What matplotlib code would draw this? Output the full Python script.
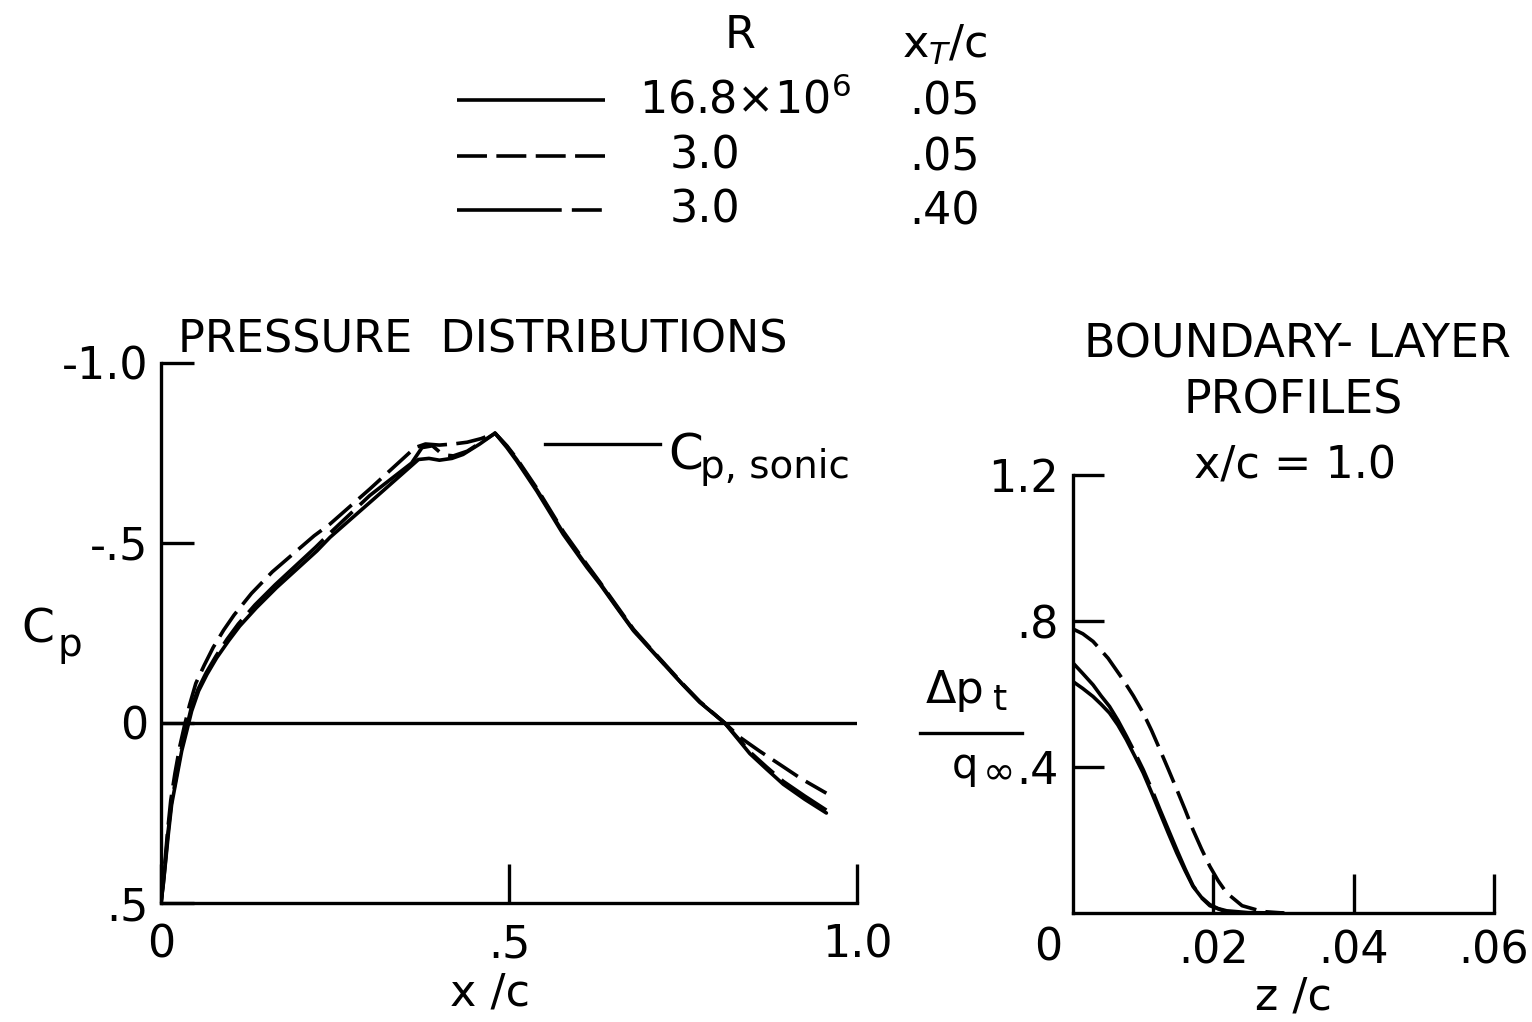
import matplotlib
matplotlib.use("Agg")
import matplotlib.pyplot as plt
from matplotlib.lines import Line2D

W, H = 1532, 1022

# pressure distributions (x/c, Cp)
# R = 16.8e6, xT/c = .05
xc_a = [0.0, 0.0033, 0.0057, 0.0105, 0.0153, 0.0225, 0.0297, 0.037, 0.044, 0.054, 0.066,
        0.080, 0.097, 0.113, 0.137, 0.166, 0.195, 0.224, 0.243, 0.305, 0.37, 0.385, 0.40,
        0.418, 0.434, 0.458, 0.48, 0.497, 0.511, 0.54, 0.578, 0.612, 0.631, 0.655, 0.679,
        0.703, 0.727, 0.75, 0.774, 0.81, 0.846, 0.87, 0.894, 0.925, 0.956]
cp_a = [0.5, 0.448, 0.402, 0.309, 0.226, 0.152, 0.078, 0.022, -0.033, -0.089, -0.135,
        -0.181, -0.228, -0.269, -0.32, -0.376, -0.427, -0.478, -0.516, -0.621, -0.732, -0.735, -0.73,
        -0.735, -0.746, -0.775, -0.805, -0.765, -0.728, -0.644, -0.524, -0.432, -0.385, -0.32, -0.256,
        -0.205, -0.154, -0.106, -0.058, 0.0, 0.085, 0.128, 0.17, 0.212, 0.25]

# R = 3.0e6, xT/c = .05
xc_b = [0.0, 0.003, 0.0055, 0.0095, 0.014, 0.020, 0.027, 0.034, 0.041, 0.050, 0.062,
        0.075, 0.090, 0.105, 0.13, 0.16, 0.19, 0.22, 0.243, 0.30, 0.365, 0.38, 0.40, 0.42,
        0.44, 0.46, 0.48, 0.497, 0.511, 0.54, 0.578, 0.612, 0.631, 0.655, 0.679, 0.703,
        0.727, 0.75, 0.774, 0.81, 0.832, 0.86, 0.889, 0.92, 0.956]
cp_b = [0.5, 0.44, 0.39, 0.3, 0.215, 0.14, 0.065, 0.005, -0.05, -0.11, -0.16,
        -0.21, -0.258, -0.3, -0.36, -0.42, -0.47, -0.52, -0.553, -0.65, -0.765, -0.775, -0.772, -0.775,
        -0.78, -0.79, -0.805, -0.77, -0.735, -0.652, -0.532, -0.44, -0.39, -0.325, -0.26, -0.208,
        -0.157, -0.108, -0.06, 0.0, 0.04, 0.078, 0.115, 0.155, 0.195]

# R = 3.0e6, xT/c = .40
xc_c = [0.0, 0.0033, 0.0057, 0.010, 0.015, 0.022, 0.029, 0.036, 0.043, 0.053, 0.065,
        0.079, 0.095, 0.111, 0.135, 0.164, 0.193, 0.222, 0.243, 0.30, 0.36, 0.375, 0.39,
        0.405, 0.42, 0.44, 0.46, 0.48, 0.497, 0.511, 0.54, 0.578, 0.612, 0.631, 0.655, 0.679,
        0.703, 0.727, 0.75, 0.774, 0.81, 0.846, 0.87, 0.894, 0.925, 0.956]
cp_c = [0.5, 0.445, 0.398, 0.305, 0.222, 0.148, 0.074, 0.018, -0.038, -0.093, -0.14,
        -0.186, -0.233, -0.275, -0.328, -0.384, -0.436, -0.488, -0.528, -0.632, -0.722, -0.765, -0.77,
        -0.745, -0.742, -0.755, -0.78, -0.805, -0.768, -0.732, -0.648, -0.528, -0.436, -0.388, -0.322, -0.258,
        -0.206, -0.155, -0.106, -0.058, 0.0, 0.08, 0.122, 0.162, 0.203, 0.242]

cp_sonic = -0.775
cp_sonic_x = [0.552, 0.717]

# boundary-layer profiles at x/c = 1.0 (z/c, delta pt / q)
zc_a = [0.0, 0.0014, 0.00286, 0.004, 0.0052, 0.0064, 0.0076, 0.0088, 0.01, 0.0112, 0.0124,
        0.0136, 0.0148, 0.016, 0.0171, 0.0183, 0.0195, 0.0207, 0.0219, 0.025, 0.03]
dp_a = [0.634, 0.615, 0.593, 0.572, 0.548, 0.515, 0.475, 0.43, 0.384, 0.33, 0.274,
        0.218, 0.164, 0.115, 0.073, 0.043, 0.023, 0.012, 0.006, 0.001, 0.0]

zc_b = [0.0, 0.0014, 0.00286, 0.005, 0.00714, 0.0086, 0.01, 0.0112, 0.0124, 0.0136, 0.0148,
        0.016, 0.0171, 0.0183, 0.0195, 0.0207, 0.0219, 0.0241, 0.027, 0.03]
dp_b = [0.778, 0.765, 0.744, 0.698, 0.639, 0.595, 0.548, 0.5, 0.447, 0.393, 0.338,
        0.282, 0.228, 0.176, 0.128, 0.088, 0.055, 0.02, 0.004, 0.0]

zc_c = [0.0, 0.0014, 0.00286, 0.004, 0.0052, 0.0064, 0.0076, 0.0088, 0.01, 0.0112, 0.0124,
        0.0136, 0.0148, 0.016, 0.0171, 0.0183, 0.0195, 0.022]
dp_c = [0.685, 0.656, 0.625, 0.595, 0.566, 0.528, 0.485, 0.44, 0.393, 0.34, 0.283,
        0.228, 0.173, 0.12, 0.075, 0.042, 0.02, 0.002]

legend_R = ["16.8$\\times$10$^{6}$", "3.0", "3.0"]
legend_xt = [".05", ".05", ".40"]

LW = 2.6  # points, ~3.6 px
DASH = (0, (8.3, 2.6))
DASHDOT = (0, (29, 2.8, 8.3, 2.8))
styles = ["-", DASH, DASHDOT]
FS = 32


def fp(x, y):
    return x / W, 1 - y / H


def ftext(x, y, s, size=FS, ha="center", va="center"):
    fig.text(*fp(x, y), s, fontsize=size, ha=ha, va=va)


fig = plt.figure(figsize=(W / 100, H / 100), dpi=100)

# pressure distributions
ax1 = fig.add_axes([161 / W, 1 - 903 / H, 696 / W, 540 / H])
for xs, ys, ls in zip([xc_a, xc_b, xc_c], [cp_a, cp_b, cp_c], styles):
    ax1.plot(xs, ys, color="black", lw=LW, linestyle=ls, solid_capstyle="round")
ax1.axhline(0, color="black", lw=2.4)
ax1.plot(cp_sonic_x, [cp_sonic, cp_sonic], color="black", lw=2.4)
ax1.set_xlim(0, 1.0)
ax1.set_ylim(0.5, -1.0)
ax1.set_xticks([0, 0.5, 1.0], ["0", ".5", "1.0"])
ax1.set_yticks([-1.0, -0.5, 0, 0.5], ["-1.0", "-.5", "0", ".5"])
ax1.tick_params(axis="y", direction="in", length=24, width=2.4, labelsize=FS, pad=9)
ax1.tick_params(axis="x", direction="in", length=28, width=2.4, labelsize=FS, pad=15)

# boundary-layer profiles
ax2 = fig.add_axes([1073 / W, 1 - 913 / H, 421 / W, 438 / H])
for xs, ys, ls in zip([zc_a, zc_b, zc_c], [dp_a, dp_b, dp_c], styles):
    ax2.plot(xs, ys, color="black", lw=LW, linestyle=ls, solid_capstyle="round")
ax2.set_xlim(0, 0.06)
ax2.set_ylim(0, 1.2)
ax2.set_xticks([0.02, 0.04, 0.06], [".02", ".04", ".06"])
ax2.set_yticks([0.4, 0.8, 1.2], [".4", ".8", "1.2"])
ax2.tick_params(axis="y", direction="in", length=22, width=2.4, labelsize=FS, pad=10)
ax2.tick_params(axis="x", direction="in", length=28, width=2.4, labelsize=FS, pad=12)
ax2.annotate("0", (0, 0), xytext=(-18, -25), textcoords="offset points",
             fontsize=FS, ha="center", va="center")

for ax in (ax1, ax2):
    for side in ("top", "right"):
        ax.spines[side].set_visible(False)
    for side in ("left", "bottom"):
        ax.spines[side].set_linewidth(2.4)

# titles and axis labels
ftext(483, 340, "PRESSURE  DISTRIBUTIONS")
ftext(1297, 345, "BOUNDARY- LAYER", size=33)
ftext(1293, 401, "PROFILES", size=33)
ftext(1295, 466, "x/c = 1.0")
ftext(490, 993, "x /c")
ftext(1293, 997, "z /c")

ftext(38, 630, "C", size=34)
ftext(70, 645, "p", size=28)

ftext(668, 456, "C", size=36, ha="left")
ftext(700, 478, "p, sonic", size=28, ha="left", va="baseline")

ftext(955, 690, "Δp", size=32)
ftext(1000, 700, "t", size=26)
fig.add_artist(Line2D([920 / W, 1022 / W], [1 - 733 / H] * 2, color="black", lw=2.4))
ftext(965, 766, "q", size=30)
ftext(999, 772, "∞", size=28)

# legend
ftext(740, 35, "R")
ftext(945, 45, "x$_T$/c")
rows_y = [100, 156, 210]
for y, ls, r, xt in zip(rows_y, styles, legend_R, legend_xt):
    fig.add_artist(Line2D([457 / W, 605 / W], [1 - y / H] * 2, color="black",
                          lw=LW, linestyle=ls, solid_capstyle="butt"))
    ftext(705 if r == "3.0" else 745, y, r)
    ftext(945, y + 2, xt)

fig.savefig("out.png", dpi=100)
